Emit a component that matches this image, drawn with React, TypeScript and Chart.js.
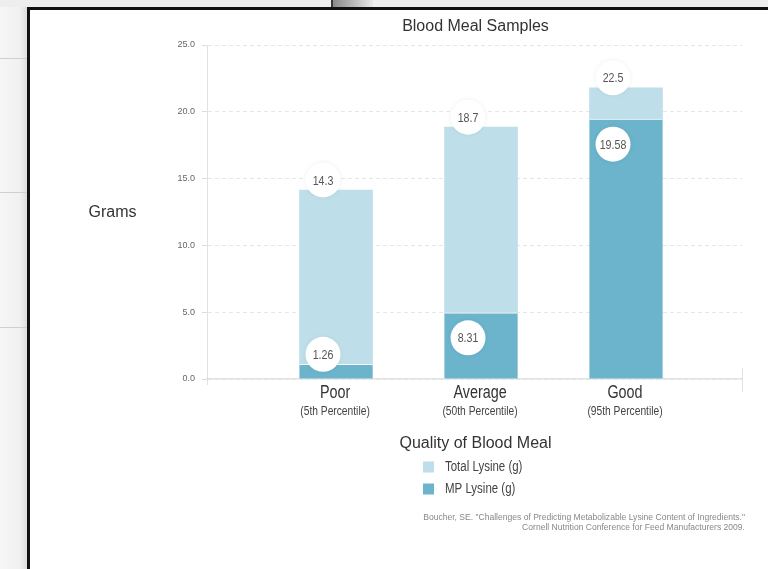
import React, { useEffect, useRef } from "react";
import { Chart, registerables } from "chart.js";

Chart.register(...registerables);

// ---- data ----
const categories = ["Poor", "Average", "Good"];
const categorySubLabels = ["(5th Percentile)", "(50th Percentile)", "(95th Percentile)"];
const totalLysine = [14.15, 18.85, 21.8];
const mpLysine = [1.1, 4.95, 19.45];
const totalLabels = ["14.3", "18.7", "22.5"];
const mpLabels = ["1.26", "8.31", "19.58"];
const yTicks = [0, 5, 10, 15, 20, 25];
const seriesNames = ["Total Lysine (g)", "MP Lysine (g)"];
const chartTitle = "Blood Meal Samples";
const yTitle = "Grams";
const xTitle = "Quality of Blood Meal";
const citation = [
  'Boucher, SE. "Challenges of Predicting Metabolizable Lysine Content of Ingredients."',
  "Cornell Nutrition Conference for Feed Manufacturers 2009.",
];

// ---- styles ----
const LIGHT = "#bedfe9";
const DARK = "#6bb4cc";
const REG = "'Liberation Sans', Arial, Helvetica, sans-serif";

function narrowText(
  ctx: CanvasRenderingContext2D,
  text: string,
  x: number,
  y: number,
  size: number,
  color: string,
  align: CanvasTextAlign,
  sx = 0.82
) {
  ctx.save();
  ctx.font = `${size}px ${REG}`;
  ctx.fillStyle = color;
  ctx.textAlign = align;
  ctx.textBaseline = "middle";
  ctx.translate(x, y);
  ctx.scale(sx, 1);
  ctx.fillText(text, 0, 0);
  ctx.restore();
}

const overlay = {
  id: "overlay",
  afterDatasetsDraw(chart: any) {
    const ctx = chart.ctx as CanvasRenderingContext2D;
    const drawBubble = (x: number, y: number, text: string) => {
      ctx.save();
      ctx.shadowColor = "rgba(0,0,0,0.07)";
      ctx.shadowBlur = 4;
      ctx.fillStyle = "#ffffff";
      ctx.beginPath();
      ctx.arc(x, y, 17.5, 0, Math.PI * 2);
      ctx.fill();
      ctx.restore();
      narrowText(ctx, text, x, y + 1, 13, "#555555", "center");
    };
    const totalMeta = chart.getDatasetMeta(0);
    totalMeta.data.forEach((el: any, i: number) => {
      drawBubble(el.x - 13, el.y - 10, totalLabels[i]);
    });
    const mpMeta = chart.getDatasetMeta(1);
    mpMeta.data.forEach((el: any, i: number) => {
      const h = el.base - el.y;
      const y = h > 50 ? el.y + 25 : el.y - 10;
      drawBubble(el.x - 13, y, mpLabels[i]);
    });
  },
  afterDraw(chart: any) {
    const ctx = chart.ctx as CanvasRenderingContext2D;
    const area = chart.chartArea;
    const xs = chart.scales.x;
    const cx = (area.left + area.right) / 2;
    ctx.save();
    ctx.textAlign = "center";
    ctx.textBaseline = "middle";

    // extra axis ticks
    ctx.strokeStyle = "#e2e2e2";
    ctx.lineWidth = 1;
    ctx.beginPath();
    ctx.moveTo(area.right + 0.5, area.bottom - 11);
    ctx.lineTo(area.right + 0.5, area.bottom + 13);
    ctx.moveTo(area.left + 0.5, area.bottom);
    ctx.lineTo(area.left + 0.5, area.bottom + 6);
    ctx.stroke();

    // title
    ctx.fillStyle = "#333333";
    ctx.font = `16px ${REG}`;
    ctx.fillText(chartTitle, cx + 1, 17);

    // y title
    ctx.fillText(yTitle, 82.5, (area.top + area.bottom) / 2 + 1);

    // category labels
    categories.forEach((c, i) => {
      const x = xs.getPixelForValue(i + 1) - 1;
      narrowText(ctx, c, x, area.bottom + 14, 17.5, "#333333", "center");
      narrowText(ctx, categorySubLabels[i], x, area.bottom + 33, 12.5, "#444444", "center");
    });

    // x title
    ctx.fillStyle = "#333333";
    ctx.font = `16px ${REG}`;
    ctx.fillText(xTitle, cx + 1, area.bottom + 65);

    // legend
    const colors = [LIGHT, DARK];
    seriesNames.forEach((name, i) => {
      const y = area.bottom + 88 + i * 22;
      ctx.fillStyle = colors[i];
      ctx.fillRect(cx - 51.5, y - 5.5, 11, 11);
      narrowText(ctx, name, cx - 29.5, y, 14, "#444444", "left");
    });

    // citation
    citation.forEach((line, i) => {
      narrowText(ctx, line, area.right + 3, area.bottom + 138 + i * 10, 9.5, "#888888", "right", 0.9);
    });
    ctx.restore();
  },
};

export default function App() {
  const ref = useRef<HTMLCanvasElement | null>(null);

  useEffect(() => {
    if (!ref.current) return;
    const chart = new Chart(ref.current, {
      type: "bar",
      data: {
        datasets: [
          {
            label: seriesNames[0],
            data: totalLysine.map((v, i) => ({ x: i + 1, y: v })),
            backgroundColor: LIGHT,
            borderWidth: 0,
            order: 2,
          },
          {
            label: seriesNames[1],
            data: mpLysine.map((v, i) => ({ x: i + 1, y: v })),
            backgroundColor: DARK,
            borderColor: "#ffffff",
            borderWidth: { top: 1, left: 0, right: 0, bottom: 0 },
            borderSkipped: false,
            order: 1,
          },
        ] as any,
      },
      options: {
        responsive: false,
        animation: false,
        devicePixelRatio: 1,
        layout: { padding: { left: 117, right: 26, top: 35, bottom: 190 } },
        datasets: { bar: { barThickness: 73, grouped: false } } as any,
        plugins: {
          legend: { display: false },
          title: { display: false },
          tooltip: { enabled: false },
        },
        scales: {
          x: {
            type: "linear",
            min: 0.11,
            max: 3.8,
            offset: false,
            ticks: { display: false },
            grid: { display: false, drawTicks: false, offset: false },
            border: { display: true, color: "#e2e2e2", width: 1.5 },
            afterFit: (s: any) => {
              s.height = 0;
            },
          },
          y: {
            min: 0,
            max: 25,
            afterBuildTicks: (s: any) => {
              s.ticks = yTicks.map((v) => ({ value: v }));
            },
            ticks: {
              padding: 7,
              color: "#666666",
              font: { family: REG, size: 9 },
              callback: (v: any) => Number(v).toFixed(1),
            },
            grid: {
              color: "#e6e6e6",
              lineWidth: 1,
              tickLength: 5,
              tickColor: "#dddddd",
              tickBorderDash: [],
            },
            border: { display: true, color: "#e2e2e2", width: 1, dash: [4, 3] },
            afterFit: (s: any) => {
              s.width = 60;
            },
          },
        },
      } as any,
      plugins: [overlay],
    });
    return () => chart.destroy();
  }, []);

  return (
    <div
      style={{
        position: "fixed",
        left: 0,
        top: 0,
        width: 768,
        height: 569,
        overflow: "hidden",
        background: "#eeeeee",
      }}
    >
      <div
        style={{
          position: "absolute",
          left: 0,
          top: 7,
          width: 27,
          height: 562,
          background: "linear-gradient(to right, #f6f6f6 0%, #f1f1f1 70%, #dedede 100%)",
        }}
      />
      {[58, 192, 327].map((y) => (
        <div
          key={y}
          style={{ position: "absolute", left: 0, top: y, width: 27, height: 1, background: "#cfcfcf" }}
        />
      ))}
      <div style={{ position: "absolute", left: 331, top: 0, width: 2, height: 7, background: "#3a3a3a" }} />
      <div
        style={{
          position: "absolute",
          left: 333,
          top: 0,
          width: 40,
          height: 7,
          background: "linear-gradient(to right, #8a8a8a, #e8e8e8)",
        }}
      />
      <div
        style={{
          position: "absolute",
          left: 27,
          top: 7,
          width: 741,
          height: 562,
          borderLeft: "3px solid #111",
          borderTop: "3px solid #111",
          background: "#ffffff",
          boxSizing: "border-box",
        }}
      >
        <canvas ref={ref} width={738} height={559} style={{ display: "block", width: 738, height: 559 }} />
      </div>
    </div>
  );
}
